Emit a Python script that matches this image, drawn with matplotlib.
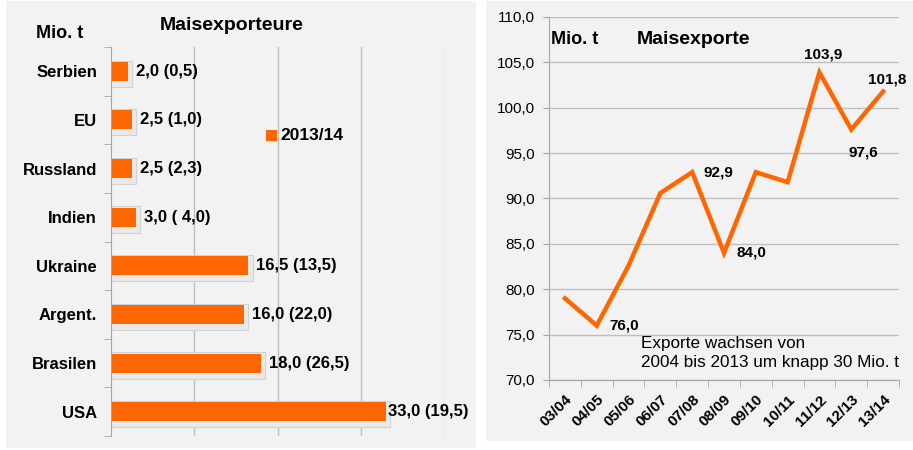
import matplotlib
matplotlib.use("Agg")
import matplotlib.pyplot as plt
from matplotlib.patches import Rectangle
import numpy as np

plt.rcParams['font.family'] = ['Liberation Sans', 'DejaVu Sans']

# ---------------- data ----------------
countries = ["Serbien", "EU", "Russland", "Indien", "Ukraine", "Argent.", "Brasilen", "USA"]
exports_1314 = [2.0, 2.5, 2.5, 3.0, 16.5, 16.0, 18.0, 33.0]
exports_prev = [0.5, 1.0, 2.3, 4.0, 13.5, 22.0, 26.5, 19.5]
bar_labels = ["2,0 (0,5)", "2,5 (1,0)", "2,5 (2,3)", "3,0 ( 4,0)",
              "16,5 (13,5)", "16,0 (22,0)", "18,0 (26,5)", "33,0 (19,5)"]
legend_label = "2013/14"

seasons = ["03/04", "04/05", "05/06", "06/07", "07/08", "08/09",
           "09/10", "10/11", "11/12", "12/13", "13/14"]
world_exports = [79.0, 76.0, 82.6, 90.6, 92.9, 84.0, 92.9, 91.8, 103.9, 97.6, 101.8]
yticks_right = [70, 75, 80, 85, 90, 95, 100, 105, 110]

ORANGE = "#FF6600"
BG = "#F2F2F2"
GRID = "#BFBFBF"
SPINE = "#A6A6A6"

W, H = 913, 450
fig = plt.figure(figsize=(W / 100, H / 100), dpi=100, facecolor="white")

def fx(px):
    return px / W

def fy(py):
    return 1 - py / H

# panel backgrounds
fig.patches.append(Rectangle((fx(6), fy(448)), fx(476) - fx(6), fy(1) - fy(448),
                             transform=fig.transFigure, facecolor=BG, edgecolor="none", zorder=-5))
fig.patches.append(Rectangle((fx(486), fy(441)), fx(913) - fx(486), fy(1) - fy(441),
                             transform=fig.transFigure, facecolor=BG, edgecolor="none", zorder=-5))

# ---------------- left: bar chart ----------------
axL = fig.add_axes([fx(111), fy(436), fx(444) - fx(111), fy(47) - fy(436)])
axL.patch.set_alpha(0)
y = np.arange(len(countries))
bh = 0.39
# soft shadow boxes behind bars
axL.barh(y + 0.05, np.array(exports_1314) + 0.5, height=0.54, color="#EAEAEA",
         edgecolor="#D2D2D2", linewidth=0.8, zorder=2)
axL.barh(y, exports_1314, height=bh, color=ORANGE, zorder=3)
for yi, v, lab in zip(y, exports_1314, bar_labels):
    off = 2 if v > 30 else 8
    axL.annotate(lab, (v, yi), xytext=(off, 0), textcoords="offset pixels",
                 ha="left", va="center", fontsize=12, fontweight="bold", zorder=5,
                 annotation_clip=False)
axL.set_xlim(0, 40)
axL.set_ylim(len(countries) - 0.5, -0.5)
axL.set_yticks(y)
axL.set_yticklabels(countries, fontsize=12, fontweight="bold")
axL.set_yticks(np.arange(-0.5, len(countries)), minor=True)
axL.tick_params(axis="y", which="major", length=0, pad=10)
axL.tick_params(axis="y", which="minor", length=5, color=SPINE, direction="out")
axL.set_xticks([10, 20, 30, 40])
axL.tick_params(axis="x", length=0, labelbottom=False)
axL.grid(axis="x", color=GRID, linewidth=1.0, zorder=1)
axL.set_axisbelow(True)
for s in ["top", "right", "bottom"]:
    axL.spines[s].set_visible(False)
axL.spines["left"].set_color(SPINE)
axL.spines["left"].set_zorder(4)

fig.text(fx(36), fy(33), "Mio. t", fontsize=13, fontweight="bold", ha="left", va="center")
fig.text(fx(232), fy(26), "Maisexporteure", fontsize=14, fontweight="bold", ha="center", va="center")
fig.patches.append(Rectangle((fx(266), fy(141)), fx(277) - fx(266), fy(130) - fy(141),
                             transform=fig.transFigure, facecolor=ORANGE, edgecolor="none", zorder=3))
fig.text(fx(280), fy(135), legend_label, fontsize=12.5, fontweight="bold", ha="left", va="center")

# ---------------- right: line chart ----------------
axR = fig.add_axes([fx(549), fy(380), fx(899) - fx(549), fy(17) - fy(380)])
axR.patch.set_alpha(0)
x = np.arange(len(seasons))
axR.plot(x, world_exports, color=ORANGE, linewidth=3.2, solid_joinstyle="miter", zorder=3)
axR.set_xlim(-0.5, len(seasons) - 0.5)
axR.set_ylim(70, 110)
axR.set_yticks(yticks_right)
axR.set_yticklabels([f"{v:.1f}".replace(".", ",") for v in yticks_right], fontsize=11)
axR.tick_params(axis="y", length=4, color=SPINE, pad=6)
axR.set_xticks(x)
axR.set_xticklabels(seasons, rotation=45, ha="right", rotation_mode="anchor",
                    fontsize=11, fontweight="bold")
axR.set_xticks(np.arange(-0.5, len(seasons)), minor=True)
axR.tick_params(axis="x", which="major", length=0, pad=9)
axR.tick_params(axis="x", which="minor", length=5, color=SPINE)
axR.grid(axis="y", color=GRID, linewidth=1.0, zorder=1)
axR.set_axisbelow(True)
for s in ["top", "right"]:
    axR.spines[s].set_visible(False)
for s in ["left", "bottom"]:
    axR.spines[s].set_color(SPINE)

label_offsets = {1: (27, 0, "center"), 4: (26, 0, "center"), 5: (27, 0, "center"),
                 8: (4, 18, "center"), 9: (12, -23, "center"), 10: (4, 12, "center")}
for i, (dx, dy, ha) in label_offsets.items():
    axR.annotate(f"{world_exports[i]:.1f}".replace(".", ","), (x[i], world_exports[i]),
                 xytext=(dx, dy), textcoords="offset pixels", ha=ha, va="center",
                 fontsize=11, fontweight="bold", zorder=5, annotation_clip=False)

axR.text(0.006, 0.937, "Mio. t", transform=axR.transAxes, fontsize=13,
         fontweight="bold", ha="left", va="center")
axR.text((637 - 549) / 350, 0.937, "Maisexporte", transform=axR.transAxes, fontsize=14,
         fontweight="bold", ha="left", va="center")
axR.text((641 - 549) / 350, (380 - 353) / 363,
         "Exporte wachsen von\n2004 bis 2013 um knapp 30 Mio. t",
         transform=axR.transAxes, fontsize=12.3, ha="left", va="center", linespacing=1.3)

fig.savefig("out.png", dpi=100, facecolor="white")
